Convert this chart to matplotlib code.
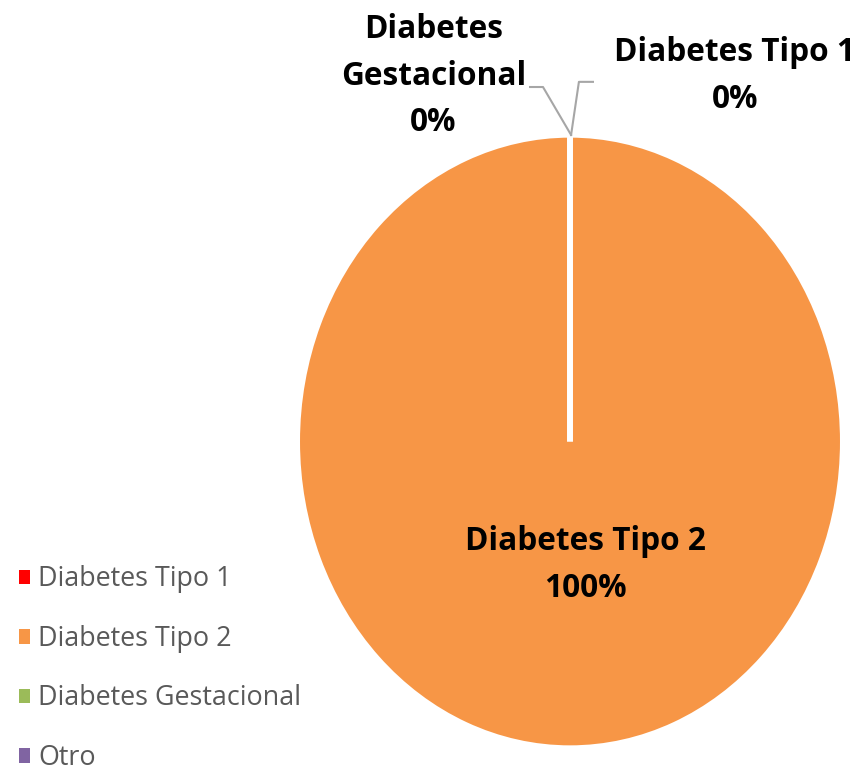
import matplotlib.pyplot as plt
from matplotlib.patches import Patch

# datos
categorias = ["Diabetes Tipo 1", "Diabetes Tipo 2", "Diabetes Gestacional", "Otro"]
valores = [0, 100, 0, 0]
colores = ["#FF0000", "#F79646", "#9BBB59", "#8064A2"]

W, H = 859, 771
fig = plt.figure(figsize=(W / 100, H / 100), dpi=100)
# ejes elipticos como en el original
ax = fig.add_axes([300 / W, 26 / H, 540 / W, 607 / H])

cunas, _ = ax.pie(valores, colors=colores, startangle=90, counterclock=False,
                  radius=1.011, wedgeprops=dict(edgecolor="white", linewidth=4.3),
                  normalize=True)
ax.set_aspect("auto")
ax.set_xlim(-1, 1)
ax.set_ylim(-1, 1)

total = sum(valores)
pct = [f"{round(100 * v / total)}%" for v in valores]

fuente = ["Open Sans", "DejaVu Sans"]
gris = "#A6A6A6"
tam = 22.8
esp = 1.55

# etiqueta principal
ax.text(0.056, -0.407, f"{categorias[1]}\n{pct[1]}", ha="center", va="center",
        fontsize=tam, fontweight="bold", family=fuente, linespacing=esp)

# etiquetas de las porciones en 0
ax.text(-0.506, 1.204, "Diabetes\nGestacional\n" + pct[2], ha="center", va="center",
        fontsize=tam, fontweight="bold", family=fuente, linespacing=esp, clip_on=False)
ax.text(0.611, 1.204, f"{categorias[0]}\n{pct[0]}", ha="center", va="center",
        fontsize=tam, fontweight="bold", family=fuente, linespacing=esp, clip_on=False)

# lineas guia
ax.plot([-0.148, -0.1, 0.004], [1.168, 1.168, 1.01], color=gris, lw=1.5, clip_on=False)
ax.plot([0.004, 0.033, 0.085], [1.01, 1.185, 1.185], color=gris, lw=1.5, clip_on=False)

# leyenda
manijas = [Patch(facecolor=c, edgecolor="none") for c in colores]
leg = fig.legend(manijas, categorias, loc="lower left",
                 bbox_to_anchor=(19 / W, -1 / H), frameon=False,
                 prop={"family": fuente, "size": 19.4},
                 handlelength=0.4, handleheight=0.45, handletextpad=0.32,
                 labelspacing=1.17, borderpad=0, borderaxespad=0)
for t in leg.get_texts():
    t.set_color("#595959")

plt.savefig("out.png", dpi=100)
